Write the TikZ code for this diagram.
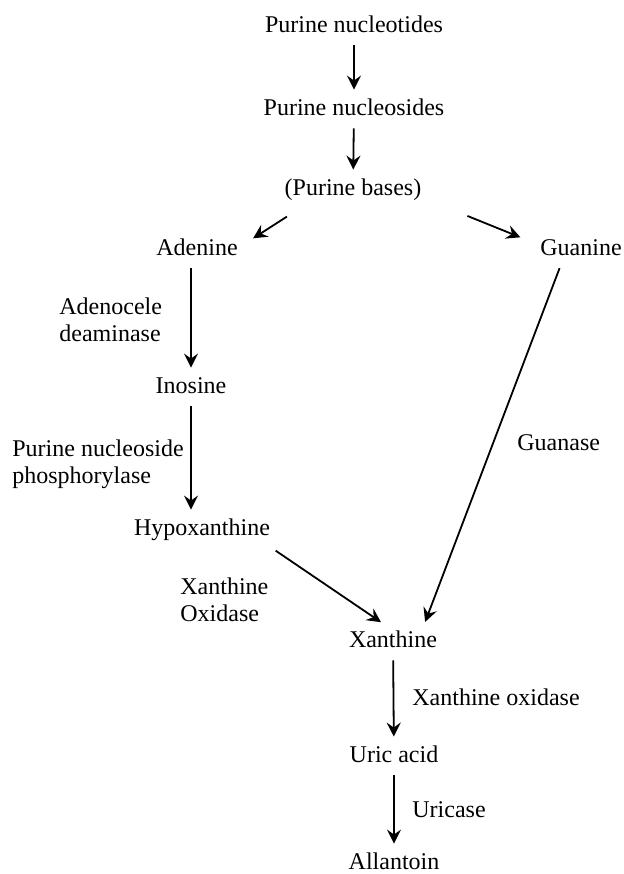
\documentclass[tikz,border=0pt]{standalone}
\usepackage{fontspec}
\setmainfont{Liberation Serif}
\usepackage{tikz}
\usetikzlibrary{arrows.meta}
\tikzset{
  metabolite/.style={inner sep=3pt, text height=1.5ex, text depth=0.25ex},
  enzyme/.style={anchor=west, inner sep=0pt, align=left},
  reaction/.style={-{Stealth[length=7pt,width=7pt,inset=2.5pt]}, line width=0.9pt, shorten <=2pt, shorten >=3pt}
}
\newcommand{\metabolitenode}[3] {\node at (#1) (#2) [metabolite] {#3};}
\newcommand{\enzymelabel}[3] {\node at (#1) (#2) [enzyme] {#3};}
\newcommand{\pathwaystep}[2] {\draw [reaction] (#1) -- (#2);}

\begin{document}
\begin{tikzpicture}[x=0.5pt, y=-0.5pt, every node/.style={font=\fontsize{12pt}{13.5pt}\selectfont}]
\useasboundingbox (0,0) rectangle (624,874);

\metabolitenode {354,27}{nucleotides}{Purine nucleotides}
\metabolitenode {354,110}{nucleosides}{Purine nucleosides}
\metabolitenode {353,190}{bases}{(Purine bases)}
\metabolitenode {197,250}{adenine}{Adenine}
\metabolitenode {581,250}{guanine}{Guanine}
\metabolitenode {191,388}{inosine}{Inosine}
\metabolitenode {202,530}{hypoxanthine}{Hypoxanthine}
\metabolitenode {393,642}{xanthine}{Xanthine}
\metabolitenode {394,757}{uricacid}{Uric acid}
\metabolitenode {394,864}{allantoin}{Allantoin}

\enzymelabel {59,320}{ada}{Adenocele\\deaminase}
\enzymelabel {12,464}{pnp}{Purine nucleoside\\phosphorylase}
\enzymelabel {180,600}{xo1}{Xanthine\\Oxidase}
\enzymelabel {517,443}{guanase}{Guanase}
\enzymelabel {412,697}{xo2}{Xanthine oxidase}
\enzymelabel {412,810}{uricase}{Uricase}

\pathwaystep{nucleotides}{nucleosides}
\pathwaystep{nucleosides}{bases}
\pathwaystep{[shift={(6pt,-5pt)}]bases.south west}{[shift={(2pt,-3pt)}]adenine.north east}
\pathwaystep{[shift={(18pt,-5pt)}]bases.south east}{[shift={(-4pt,-2pt)}]guanine.north west}
\pathwaystep{inosine.north |- adenine.south}{inosine}
\pathwaystep{inosine}{hypoxanthine.north -| inosine}
\pathwaystep{[shift={(-2pt,-2pt)}]hypoxanthine.south east}{[shift={(-3.5pt,1pt)}]xanthine.north}
\pathwaystep{[xshift=-10pt]guanine.south}{[xshift=15pt]xanthine.north}
\pathwaystep{xanthine}{uricacid}
\pathwaystep{uricacid}{allantoin}

\end{tikzpicture}
\end{document}
